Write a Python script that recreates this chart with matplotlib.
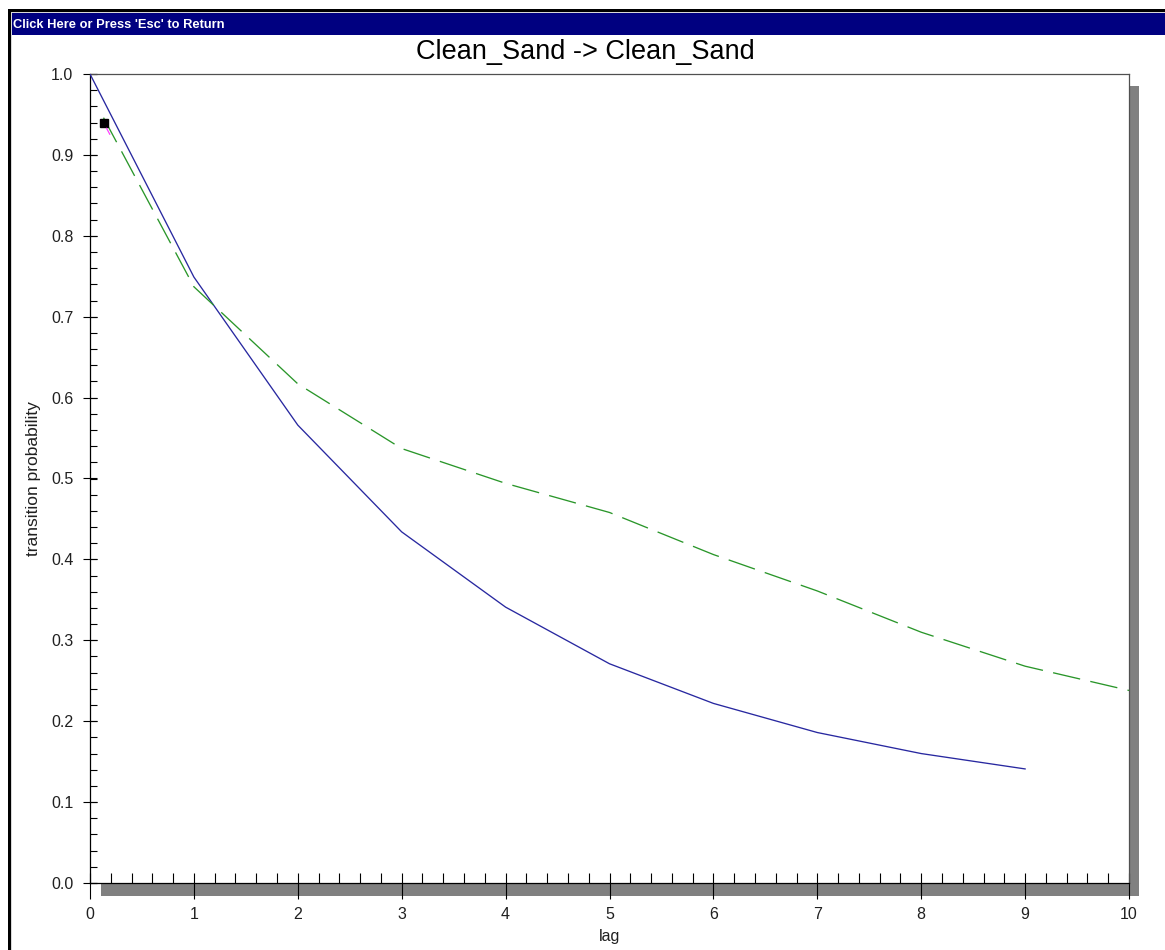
import numpy as np
import matplotlib
matplotlib.use("Agg")
import matplotlib.pyplot as plt
from matplotlib.patches import Rectangle
from matplotlib.ticker import MultipleLocator, FormatStrFormatter

plt.rcParams['font.family'] = ['Liberation Sans', 'DejaVu Sans']

# Transition probability curves for Clean_Sand -> Clean_Sand
lag_measured = [0, 1, 2, 3, 4, 5, 6, 7, 8, 9]
prob_measured = [1.0, 0.749, 0.566, 0.434, 0.341, 0.271, 0.222, 0.186, 0.160, 0.141]

lag_model = [0.13, 1, 2, 3, 4, 5, 6, 7, 8, 9, 10]
prob_model = [0.946, 0.737, 0.617, 0.537, 0.494, 0.458, 0.406, 0.361, 0.310, 0.268, 0.238]

title = "Clean_Sand -> Clean_Sand"
banner = "Click Here or Press 'Esc' to Return"
x_label = "lag"
y_label = "transition probability"

W, H = 1165, 950
fig = plt.figure(figsize=(W / 100, H / 100), dpi=100)
fig.patch.set_facecolor('white')


def px_rect(x0, y0, x1, y1, **kw):
    """Rectangle given in pixel coordinates measured from the top-left."""
    r = Rectangle((x0 / W, 1 - y1 / H), (x1 - x0) / W, (y1 - y0) / H,
                  transform=fig.transFigure, linewidth=0, **kw)
    fig.add_artist(r)
    return r


# window frame and caption bar
px_rect(8, 9, W, 11.5, facecolor='black', zorder=0)
px_rect(8, 9, 10.5, H, facecolor='black', zorder=0)
px_rect(11, 12, W, 13, facecolor='#d8d8d8', zorder=0)
px_rect(11, 12, 12, H, facecolor='#d8d8d8', zorder=0)
px_rect(12, 13, W, 35, facecolor='#000080', zorder=0)
fig.text(13 / W, 1 - 24.5 / H, banner, color='white', fontsize=9.3,
         fontweight='bold', ha='left', va='center')

# plot frame drop shadow
px_rect(101, 86, 1139, 896, facecolor='#808080', zorder=0.5)

ax_l, ax_r, ax_t, ax_b = 90, 1129, 74, 883
ax = fig.add_axes([ax_l / W, 1 - ax_b / H, (ax_r - ax_l) / W, (ax_b - ax_t) / H])
ax.set_zorder(1)
ax.set_facecolor('white')

ax.plot(lag_measured, prob_measured, color='#2828a0', linewidth=0.95,
        solid_joinstyle='miter', zorder=3)

plt.rcParams['lines.scale_dashes'] = False
ax.plot(lag_model, prob_model, color='#2a962a', linewidth=0.95,
        dashes=(20, 7.5), zorder=3)

# selected first point of the model curve
ax.plot([lag_model[0]], [prob_model[0] - 0.006], marker='s', markersize=6.3,
        color='black', linestyle='none', zorder=4)
seg_x = np.linspace(lag_model[0] + 0.03, lag_model[0] + 0.06, 5)
ax.plot(seg_x, np.interp(seg_x, lag_model, prob_model) - 0.006,
        color='#ff40ff', linewidth=0.9, zorder=5)

ax.set_xlim(0, 10)
ax.set_ylim(0, 1)

ax.xaxis.remove_overlapping_locs = False
ax.yaxis.remove_overlapping_locs = False
ax.xaxis.set_major_locator(MultipleLocator(1))
ax.xaxis.set_minor_locator(MultipleLocator(0.2))
ax.yaxis.set_major_locator(MultipleLocator(0.1))
ax.yaxis.set_minor_locator(MultipleLocator(0.02))
ax.xaxis.set_major_formatter(FormatStrFormatter('%d'))
ax.yaxis.set_major_formatter(FormatStrFormatter('%.1f'))

ax.tick_params(axis='x', which='major', direction='out', length=11.5,
               width=0.8, color='black', pad=6, labelsize=11.5,
               labelcolor='#202020')
ax.tick_params(axis='x', which='minor', direction='in', length=7.2,
               width=0.8, color='black')
# major y ticks cross the axis line
ax.tick_params(axis='y', which='major', direction='inout', length=10,
               width=0.8, color='black', pad=7, labelsize=11.5,
               labelcolor='#202020')
ax.tick_params(axis='y', which='minor', direction='in', length=5,
               width=0.8, color='black')
ax.tick_params(axis='x', which='both', top=False)
ax.tick_params(axis='y', which='both', right=False)

for side in ('left', 'bottom'):
    ax.spines[side].set_color('black')
    ax.spines[side].set_linewidth(0.9)
for side in ('top', 'right'):
    ax.spines[side].set_color('#505050')
    ax.spines[side].set_linewidth(0.9)

fig.text(585 / W, 1 - 52 / H, title, fontsize=19.5, color='black',
         ha='center', va='center')
ax.set_xlabel(x_label, fontsize=11.5, color='#202020', labelpad=5)
ax.set_ylabel(y_label, fontsize=12.5, color='#202020', labelpad=7)

fig.savefig('out.png', dpi=100, facecolor='white')
